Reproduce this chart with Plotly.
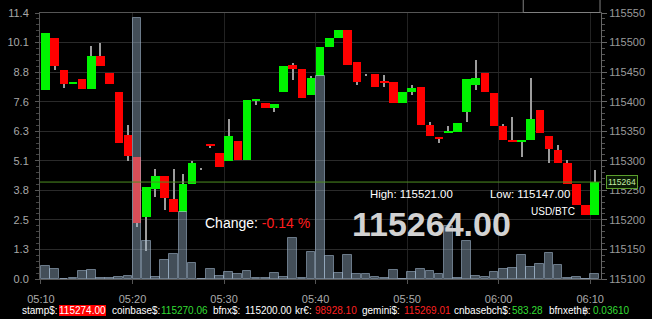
import pandas as pd
import plotly.graph_objects as go

# ---------------- data ----------------
start_time = "2024-01-01 05:10"
times = pd.date_range(start_time, periods=61, freq="1min")

open_ = [115419, 115507, 115454, 115430, 115438, 115421, 115477, 115449, 115417, 115343,
         115307, 115205, 115252, 115274, 115236, 115214, 115260, 115287, 115327, 115314,
         115299, 115334, 115301, 115402, 115398, 115390, 115417, 115462, 115456, 115412,
         115443, 115493, 115507, 115521, 115467, 115446, 115447, 115435, 115433, 115398,
         115416, 115424, 115361, 115341, 115347, 115349, 115382, 115428, 115449, 115415,
         115358, 115335, 115332, 115335, 115386, 115342, 115318, 115297, 115260, 115226,
         115209]
high = [115516, 115507, 115454, 115432, 115438, 115495, 115499, 115449, 115417, 115360,
        115307, 115255, 115286, 115274, 115286, 115278, 115300, 115288, 115327, 115314,
        115370, 115334, 115402, 115404, 115398, 115396, 115461, 115465, 115456, 115443,
        115493, 115507, 115521, 115521, 115467, 115447, 115447, 115445, 115433, 115416,
        115429, 115424, 115365, 115341, 115359, 115364, 115438, 115471, 115449, 115415,
        115362, 115374, 115335, 115440, 115386, 115342, 115326, 115301, 115260, 115226,
        115285]
low = [115419, 115453, 115423, 115430, 115421, 115421, 115460, 115430, 115330, 115300,
       115188, 115147, 115238, 115216, 115213, 115214, 115260, 115286, 115321, 115290,
       115299, 115302, 115301, 115395, 115390, 115382, 115417, 115436, 115406, 115412,
       115443, 115493, 115507, 115462, 115429, 115445, 115425, 115425, 115398, 115398,
       115412, 115361, 115342, 115330, 115347, 115349, 115366, 115419, 115416, 115358,
       115335, 115332, 115306, 115335, 115347, 115296, 115297, 115260, 115226, 115209,
       115209]
close = [115516, 115461, 115430, 115432, 115421, 115477, 115460, 115430, 115330, 115308,
         115195, 115255, 115274, 115237, 115213, 115260, 115297, 115287, 115325, 115290,
         115342, 115302, 115402, 115404, 115390, 115396, 115461, 115456, 115407, 115440,
         115493, 115507, 115521, 115462, 115433, 115446, 115425, 115433, 115398, 115416,
         115423, 115361, 115342, 115338, 115349, 115364, 115438, 115440, 115416, 115358,
         115335, 115332, 115335, 115371, 115347, 115320, 115297, 115260, 115226, 115209,
         115264]
volume = [0.54, 0.43, 0.02, 0.05, 0.34, 0.37, 0.06, 0.05, 0.09, 0.11,
          11.18, 1.61, 0.10, 0.81, 1.06, 2.87, 0.68, 0.02, 0.43, 0.15,
          0.29, 0.21, 0.34, 0.06, 0.03, 0.26, 0.10, 1.76, 0.03, 1.16,
          8.69, 1.00, 0.25, 1.05, 0.21, 0.20, 0.08, 0.03, 0.37, 0.01,
          0.32, 0.42, 0.35, 0.21, 2.26, 0.04, 1.63, 0.15, 0.07, 0.31,
          0.42, 0.47, 1.05, 0.53, 0.66, 1.12, 0.62, 0.05, 0.08, 0.02,
          0.20]

vol_tick_labels = ["0.0", "1.3", "2.5", "3.8", "5.1", "6.3", "7.6", "8.8", "10.1", "11.4"]
vol_max = 11.4
price_min, price_max = 115100, 115550

last_price = 115264
high_24 = "115521.00"
low_24 = "115147.00"
change_pct = "-0.14 %"
pair = "USD/BTC"

tickers = [("stamp$:", "115274.00", "box"), ("coinbase$:", "115270.06", "up"),
           ("bfnx$:", "115200.00", "flat"), ("kr€:", "98928.10", "down"),
           ("gemini$:", "115269.01", "down"), ("cnbasebch$:", "583.28", "up"),
           ("bfnxeth฿:", "0.03610", "up")]
ticker_label_px = [19, 110, 213, 296, 364, 458, 554]
ticker_value_px = [58, 160, 245, 316, 407, 517, 599]

# ---------------- styling ----------------
W, H = 652, 319
L, R, T, B = 37, 45, 7, 40
GREEN = "#00f400"
RED = "#ff0000"
FONT = "Liberation Sans, Arial, sans-serif"


def px_x(x):
    return (x - L) / (W - L - R)


def px_y(y):
    return (H - B - y) / (H - T - B)


body_base = [min(o, c) for o, c in zip(open_, close)]
body_h = [abs(c - o) for o, c in zip(open_, close)]
body_col = [GREEN if c >= o else RED for o, c in zip(open_, close)]
wick_h = [h - l for h, l in zip(high, low)]

fig = go.Figure()

# wicks
fig.add_trace(go.Bar(
    x=times, y=wick_h, base=low, width=6500,
    xperiod=60000, xperiodalignment="middle",
    marker=dict(color="#9c9c9c", line=dict(width=0)),
    yaxis="y", hoverinfo="skip"))
# bodies
fig.add_trace(go.Bar(
    x=times, y=body_h, base=body_base, width=56000,
    xperiod=60000, xperiodalignment="middle",
    marker=dict(color=body_col, line=dict(width=0)),
    yaxis="y", hoverinfo="skip"))
# volume
fig.add_trace(go.Bar(
    x=times, y=volume, width=57000,
    xperiod=60000, xperiodalignment="middle",
    marker=dict(color="rgba(160,185,210,0.42)",
                line=dict(color="rgba(170,192,215,0.55)", width=1)),
    yaxis="y2", hoverinfo="skip"))

x0 = pd.Timestamp(start_time) - pd.Timedelta(seconds=6.45)
x1 = x0 + pd.Timedelta(minutes=(W - L - R) / 9.3)

vol_tickvals = [i * vol_max / (len(vol_tick_labels) - 1) for i in range(len(vol_tick_labels))]

fig.update_layout(
    width=W, height=H,
    margin=dict(l=L, r=R, t=T, b=B, pad=0),
    paper_bgcolor="#000000", plot_bgcolor="#000000",
    barmode="overlay", bargap=0, showlegend=False,
    font=dict(family=FONT, color="#aaaaaa", size=11),
    xaxis=dict(
        type="date", range=[x0, x1],
        tick0=start_time, dtick=600000, tickformat="%H:%M",
        showgrid=True, gridcolor="#222222", gridwidth=1,
        showline=True, mirror=True, linecolor="#555555",
        ticks="outside", ticklen=4, tickcolor="#555555",
        ticklabelstandoff=6,
        tickfont=dict(size=11, color="#aaaaaa"),
        zeroline=False,
    ),
    yaxis=dict(
        side="right", range=[price_min, price_max],
        tick0=price_min, dtick=50, tickformat="d",
        showgrid=True, gridcolor="#2a2a2a", gridwidth=1,
        showline=True, linecolor="#666666",
        ticks="outside", ticklen=5, tickcolor="#666666",
        tickfont=dict(size=11, color="#9a9a9a"),
        minor=dict(ticks="outside", ticklen=3, dtick=10, tickcolor="#555555", showgrid=False),
        zeroline=False,
    ),
    yaxis2=dict(
        overlaying="y", side="left", range=[0, vol_max],
        tickvals=vol_tickvals, ticktext=vol_tick_labels,
        showgrid=False, showline=True, linecolor="#555555",
        ticks="outside", ticklen=4, tickcolor="#555555",
        ticklabelstandoff=4,
        tickfont=dict(size=11, color="#a8a8a8"),
        minor=dict(ticks="outside", ticklen=3, dtick=vol_max / 45, tickcolor="#444444", showgrid=False),
        zeroline=False,
    ),
)

# last-price line
fig.add_shape(type="line", xref="paper", yref="y", x0=0, x1=1,
              y0=last_price, y1=last_price, line=dict(color="#4e8f22", width=1), layer="above")

# partially visible box at top-right
fig.add_shape(type="rect", xref="paper", yref="paper",
              x0=px_x(528), x1=px_x(606), y0=px_y(6.5), y1=px_y(-10),
              line=dict(color="#808080", width=1), fillcolor="#000000", layer="above")

ann = []
ann.append(dict(x=1, y=last_price, xref="paper", yref="y", xanchor="left", yanchor="middle",
                xshift=5, text=str(last_price), showarrow=False,
                font=dict(size=8.5, color="#c4eea6", family=FONT),
                bgcolor="#0a1a04", bordercolor="#5a9f2c", borderwidth=1, borderpad=1))


def center_text(x, y, text, size, color, bold=False):
    return dict(x=px_x(x), y=px_y(y), xref="paper", yref="paper",
                xanchor="center", yanchor="middle",
                text=("<b>%s</b>" % text) if bold else text, showarrow=False,
                font=dict(size=size, color=color, family=FONT))


ann.append(center_text(258, 222, "Change: <span style='color:#ff1c1c'>" + change_pct + "</span>",
                       14, "#ffffff"))
ann.append(center_text(414.5, 192, "High: " + high_24, 11.4, "#ffffff"))
ann.append(center_text(534.5, 192, "Low: " + low_24, 11.4, "#ffffff"))
ann.append(center_text(558, 210, pair, 10, "#ffffff"))
ann.append(center_text(434.5, 222.5, "%.2f" % last_price, 34, "#d2d2d2", bold=True))

colors = {"up": "#33dd33", "down": "#ff2020", "flat": "#ffffff", "box": "#ffffff"}
for (lab, val, kind), lx, vx in zip(tickers, ticker_label_px, ticker_value_px):
    ann.append(dict(x=px_x(lx - 2), y=px_y(311), xref="paper", yref="paper",
                    xanchor="left", yanchor="middle", text=lab, showarrow=False,
                    font=dict(size=10, color="#ffffff", family=FONT)))
    extra = dict(bgcolor="#ff0000", borderpad=0, borderwidth=0) if kind == "box" else {}
    ann.append(dict(x=px_x(vx - 2), y=px_y(311), xref="paper", yref="paper",
                    xanchor="left", yanchor="middle", text=val, showarrow=False,
                    font=dict(size=10, color=colors[kind], family=FONT), **extra))

fig.update_layout(annotations=ann)

fig.write_html("out.html")
